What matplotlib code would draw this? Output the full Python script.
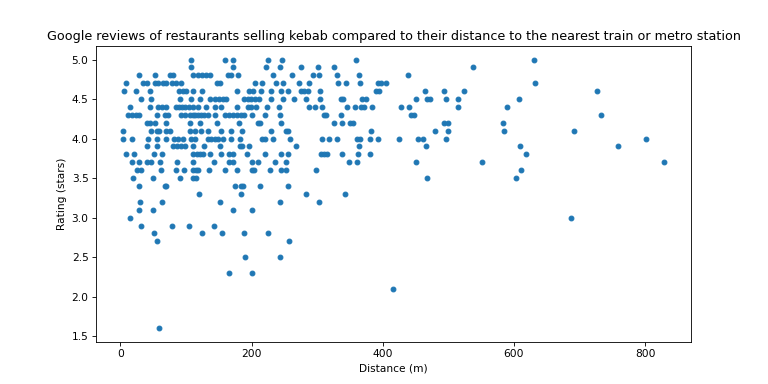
import numpy as np
import matplotlib.pyplot as plt

# distances (m) of restaurants, grouped by their google rating
d50 = [107, 159, 171, 225, 247, 359, 630]
d49 = [107, 171, 222, 244, 275, 301, 326, 538]
d48 = [29, 52, 75, 80, 111, 118, 125, 131, 137, 164, 169, 179, 232, 262, 293, 302, 330, 363, 439]
d47 = [8, 35, 41, 52, 57, 65, 70, 79, 85, 93, 147, 152, 205, 216, 237, 248, 273, 287, 331, 344,
       365, 392, 397, 405, 632]
d46 = [5, 24, 45, 90, 95, 100, 111, 125, 177, 196, 202, 215, 230, 245, 255, 275, 280, 286, 304,
       390, 394, 465, 494, 524, 726]
d45 = [32, 46, 91, 108, 122, 137, 144, 150, 156, 161, 189, 194, 199, 205, 212, 230, 248, 265, 283,
       304, 336, 340, 368, 374, 450, 467, 472, 497, 514, 607]
d44 = [14, 45, 58, 63, 70, 84, 89, 94, 99, 104, 111, 118, 130, 144, 154, 177, 194, 199, 206, 223,
       242, 288, 297, 308, 345, 357, 367, 371, 384, 428, 440, 514, 589]
d43 = [12, 17, 24, 29, 55, 68, 73, 93, 98, 106, 111, 113, 118, 123, 128, 133, 144, 160, 165, 171,
       177, 184, 188, 201, 221, 244, 311, 314, 336, 443, 447, 733]
d42 = [40, 45, 52, 70, 106, 121, 147, 181, 210, 213, 245, 326, 338, 350, 354, 494, 500, 583]
d41 = [4, 46, 55, 59, 70, 75, 106, 113, 123, 133, 154, 169, 186, 230, 253, 256, 382, 480, 499,
       585, 692]
d40 = [4, 17, 42, 55, 70, 81, 88, 95, 108, 113, 133, 138, 144, 149, 156, 169, 183, 216, 221, 232,
       258, 308, 318, 330, 360, 365, 381, 392, 424, 453, 461, 496, 801]
d39 = [40, 55, 80, 86, 92, 98, 111, 128, 152, 182, 186, 196, 267, 363, 466, 609, 759]
d38 = [9, 20, 51, 63, 111, 116, 121, 126, 137, 154, 166, 171, 193, 221, 245, 255, 306, 310, 315,
       338, 362, 380, 619]
d37 = [18, 29, 40, 47, 60, 86, 111, 142, 166, 171, 200, 210, 235, 253, 349, 360, 450, 552, 829]
d36 = [25, 32, 62, 84, 97, 111, 115, 118, 135, 160, 177, 200, 203, 228, 245, 253, 298, 610]
d35 = [19, 50, 91, 111, 115, 468, 603]
d34 = [29, 68, 70, 174, 184, 187, 213, 255]
d33 = [120, 184, 283, 342]
d32 = [30, 64, 152, 244, 303]
d31 = [29, 50, 171, 200]
d30 = [14, 687]
d29 = [32, 79, 105, 142]
d28 = [51, 125, 155, 188, 225]
d27 = [55, 257]
d25 = [190, 243]
d23 = [166, 200]
d21 = [415]
d16 = [59]

groups = [(5.0, d50), (4.9, d49), (4.8, d48), (4.7, d47), (4.6, d46), (4.5, d45), (4.4, d44),
          (4.3, d43), (4.2, d42), (4.1, d41), (4.0, d40), (3.9, d39), (3.8, d38), (3.7, d37),
          (3.6, d36), (3.5, d35), (3.4, d34), (3.3, d33), (3.2, d32), (3.1, d31), (3.0, d30),
          (2.9, d29), (2.8, d28), (2.7, d27), (2.5, d25), (2.3, d23), (2.1, d21), (1.6, d16)]

distance = []
rating = []
for r, ds in groups:
    distance += ds
    rating += [r] * len(ds)

# figure drawn at 10x5 in and saved small, like the original
fig, ax = plt.subplots(figsize=(10, 5), dpi=76.8)
ax.scatter(distance, rating, s=20, color="C0")
ax.set_title("Google reviews of restaurants selling kebab compared to their distance to the nearest train or metro station")
ax.set_xlabel("Distance (m)")
ax.set_ylabel("Rating (stars)")
plt.savefig("out.png")
